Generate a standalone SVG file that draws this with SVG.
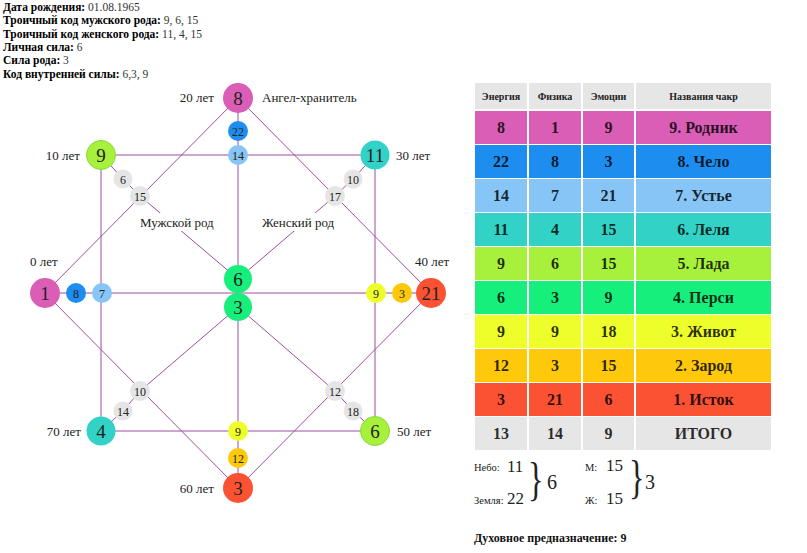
<svg xmlns="http://www.w3.org/2000/svg" width="807" height="553" viewBox="0 0 807 553">
<style>
text{font-family:"Liberation Serif","Times New Roman",serif;}
.hd{font-size:11.5px;fill:#000;}
.hd tspan.b{font-weight:bold;}
.hd tspan.v{fill:#333;}
.lbl{font-size:13px;fill:#222;}
.big{font-size:19px;fill:#222;text-anchor:middle;}
.sm{font-size:12px;fill:#222;text-anchor:middle;}
.ln{stroke:#9c4fa0;stroke-width:1;fill:none;}
.th{font-size:10px;font-weight:bold;fill:#222;text-anchor:middle;}
.td{font-size:16px;font-weight:bold;fill:#000;fill-opacity:0.82;text-anchor:middle;}
.pink{fill:#da5db6;} .blue{fill:#1d8ef0;} .lblue{fill:#86c5f6;} .teal{fill:#32d3c6;}
.lime{fill:#a7f03b;} .green{fill:#16ef7c;} .yel{fill:#eefe2a;} .orng{fill:#fdc90a;}
.red{fill:#fb5234;} .gray{fill:#e5e5e5;} .hgray{fill:#e6e6e6;}
.limec{fill:#a7f03b;stroke:#86da3a;stroke-width:1;}
.small{font-size:10.5px;fill:#222;}
.mid{font-size:17px;fill:#222;}
.res{font-size:20px;fill:#222;}
.brace{font-size:46px;fill:#222;}
</style>

<g id="header">
<text class="hd" x="3" y="11"><tspan class="b">Дата рождения:</tspan><tspan class="v"> 01.08.1965</tspan></text>
<text class="hd" x="3" y="24.3"><tspan class="b">Троичный код мужского рода:</tspan><tspan class="v"> 9, 6, 15</tspan></text>
<text class="hd" x="3" y="37.6"><tspan class="b">Троичный код женского рода:</tspan><tspan class="v"> 11, 4, 15</tspan></text>
<text class="hd" x="3" y="50.9"><tspan class="b">Личная сила:</tspan><tspan class="v"> 6</tspan></text>
<text class="hd" x="3" y="64.2"><tspan class="b">Сила рода:</tspan><tspan class="v"> 3</tspan></text>
<text class="hd" x="3" y="77.5"><tspan class="b">Код внутренней силы:</tspan><tspan class="v"> 6,3, 9</tspan></text>
</g>

<g id="connectors">
<path class="ln" d="M101,155 H375 V431 H101 Z"/>
<path class="ln" d="M238,98 L45,293 L238,488 L431,293 Z"/>
<line class="ln" x1="45" y1="293" x2="431" y2="293"/>
<line class="ln" x1="238" y1="98" x2="238" y2="488"/>
<polyline class="ln" points="101,155 123,179 140,196 238,279"/>
<polyline class="ln" points="375,155 353,179 335,196 238,279"/>
<polyline class="ln" points="101,431 123,411 140,391 238,307"/>
<polyline class="ln" points="375,431 353,411 335,391 238,307"/>
</g>

<g id="line-labels">
<rect x="138" y="213" width="80" height="18" fill="#fff"/>
<text class="lbl" x="140" y="227">Мужской род</text>
<rect x="260" y="213" width="78" height="18" fill="#fff"/>
<text class="lbl" x="262" y="227">Женский род</text>
</g>

<g id="age-labels">
<text class="lbl" x="214" y="102" text-anchor="end">20 лет</text>
<text class="lbl" x="262" y="102">Ангел-хранитель</text>
<text class="lbl" x="80" y="160" text-anchor="end">10 лет</text>
<text class="lbl" x="396" y="160">30 лет</text>
<text class="lbl" x="30" y="266">0 лет</text>
<text class="lbl" x="415" y="266">40 лет</text>
<text class="lbl" x="81" y="436" text-anchor="end">70 лет</text>
<text class="lbl" x="397" y="436">50 лет</text>
<text class="lbl" x="214" y="493" text-anchor="end">60 лет</text>
</g>

<g id="n-top"><circle class="pink" cx="238" cy="98" r="15"/><text class="big" x="238" y="105">8</text></g>
<g id="n-top-22"><circle class="blue" cx="238" cy="131" r="10"/><text class="sm" x="238" y="135.5">22</text></g>
<g id="n-top-14"><circle class="lblue" cx="238" cy="155" r="10"/><text class="sm" x="238" y="159.5">14</text></g>
<g id="n-tl"><circle class="limec" cx="101" cy="155" r="14.5"/><text class="big" x="101" y="162">9</text></g>
<g id="n-tl-6"><circle class="gray" cx="123" cy="179" r="9.5"/><text class="sm" x="123" y="183.5">6</text></g>
<g id="n-tl-15"><circle class="gray" cx="140" cy="196" r="10"/><text class="sm" x="140" y="200.5">15</text></g>
<g id="n-tr"><circle class="teal" cx="375" cy="155" r="14.5"/><text class="big" x="375" y="162">11</text></g>
<g id="n-tr-10"><circle class="gray" cx="353" cy="179" r="9.5"/><text class="sm" x="353" y="183.5">10</text></g>
<g id="n-tr-17"><circle class="gray" cx="335" cy="196" r="10"/><text class="sm" x="335" y="200.5">17</text></g>
<g id="n-left"><circle class="pink" cx="45" cy="293" r="15"/><text class="big" x="45" y="300">1</text></g>
<g id="n-left-8"><circle class="blue" cx="76" cy="293" r="10"/><text class="sm" x="76" y="297.5">8</text></g>
<g id="n-left-7"><circle class="lblue" cx="102" cy="293" r="10"/><text class="sm" x="102" y="297.5">7</text></g>
<g id="n-right"><circle class="red" cx="431" cy="293" r="15"/><text class="big" x="431" y="300">21</text></g>
<g id="n-right-3"><circle class="orng" cx="402" cy="293" r="10"/><text class="sm" x="402" y="297.5">3</text></g>
<g id="n-right-9"><circle class="yel" cx="376" cy="293" r="10"/><text class="sm" x="376" y="297.5">9</text></g>
<g id="n-center-6"><circle class="green" cx="238" cy="279" r="14"/><text class="big" x="238" y="286">6</text></g>
<g id="n-center-3"><circle class="green" cx="238" cy="307" r="14"/><text class="big" x="238" y="314">3</text></g>
<g id="n-bl"><circle class="teal" cx="101" cy="431" r="14.5"/><text class="big" x="101" y="438">4</text></g>
<g id="n-bl-14"><circle class="gray" cx="123" cy="411" r="9.5"/><text class="sm" x="123" y="415.5">14</text></g>
<g id="n-bl-10"><circle class="gray" cx="140" cy="391" r="10"/><text class="sm" x="140" y="395.5">10</text></g>
<g id="n-br"><circle class="limec" cx="375" cy="431" r="14.5"/><text class="big" x="375" y="438">6</text></g>
<g id="n-br-18"><circle class="gray" cx="353" cy="411" r="9.5"/><text class="sm" x="353" y="415.5">18</text></g>
<g id="n-br-12"><circle class="gray" cx="335" cy="391" r="10"/><text class="sm" x="335" y="395.5">12</text></g>
<g id="n-bottom"><circle class="red" cx="238" cy="488" r="15"/><text class="big" x="238" y="495">3</text></g>
<g id="n-bottom-12"><circle class="orng" cx="238" cy="458" r="10"/><text class="sm" x="238" y="462.5">12</text></g>
<g id="n-bottom-9"><circle class="yel" cx="238" cy="431" r="10"/><text class="sm" x="238" y="435.5">9</text></g>

<g id="table">
<g id="thead">
<rect class="hgray" x="475" y="83" width="52" height="26"/>
<rect class="hgray" x="529" y="83" width="52" height="26"/>
<rect class="hgray" x="583" y="83" width="51" height="26"/>
<rect class="hgray" x="636" y="83" width="135" height="26"/>
<text class="th" x="501" y="100">Энергия</text>
<text class="th" x="555" y="100">Физика</text>
<text class="th" x="608.5" y="100">Эмоции</text>
<text class="th" x="703.5" y="100">Названия чакр</text>
</g>
<g id="row9">
<rect class="pink" x="475" y="111" width="52" height="33"/><rect class="pink" x="529" y="111" width="52" height="33"/><rect class="pink" x="583" y="111" width="51" height="33"/><rect class="pink" x="636" y="111" width="135" height="33"/>
<text class="td" x="501" y="133">8</text><text class="td" x="555" y="133">1</text><text class="td" x="608.5" y="133">9</text><text class="td" x="703.5" y="133">9. Родник</text>
</g>
<g id="row8">
<rect class="blue" x="475" y="145" width="52" height="33"/><rect class="blue" x="529" y="145" width="52" height="33"/><rect class="blue" x="583" y="145" width="51" height="33"/><rect class="blue" x="636" y="145" width="135" height="33"/>
<text class="td" x="501" y="167">22</text><text class="td" x="555" y="167">8</text><text class="td" x="608.5" y="167">3</text><text class="td" x="703.5" y="167">8. Чело</text>
</g>
<g id="row7">
<rect class="lblue" x="475" y="179" width="52" height="33"/><rect class="lblue" x="529" y="179" width="52" height="33"/><rect class="lblue" x="583" y="179" width="51" height="33"/><rect class="lblue" x="636" y="179" width="135" height="33"/>
<text class="td" x="501" y="201">14</text><text class="td" x="555" y="201">7</text><text class="td" x="608.5" y="201">21</text><text class="td" x="703.5" y="201">7. Устье</text>
</g>
<g id="row6">
<rect class="teal" x="475" y="213" width="52" height="33"/><rect class="teal" x="529" y="213" width="52" height="33"/><rect class="teal" x="583" y="213" width="51" height="33"/><rect class="teal" x="636" y="213" width="135" height="33"/>
<text class="td" x="501" y="235">11</text><text class="td" x="555" y="235">4</text><text class="td" x="608.5" y="235">15</text><text class="td" x="703.5" y="235">6. Леля</text>
</g>
<g id="row5">
<rect class="lime" x="475" y="247" width="52" height="33"/><rect class="lime" x="529" y="247" width="52" height="33"/><rect class="lime" x="583" y="247" width="51" height="33"/><rect class="lime" x="636" y="247" width="135" height="33"/>
<text class="td" x="501" y="269">9</text><text class="td" x="555" y="269">6</text><text class="td" x="608.5" y="269">15</text><text class="td" x="703.5" y="269">5. Лада</text>
</g>
<g id="row4">
<rect class="green" x="475" y="281" width="52" height="33"/><rect class="green" x="529" y="281" width="52" height="33"/><rect class="green" x="583" y="281" width="51" height="33"/><rect class="green" x="636" y="281" width="135" height="33"/>
<text class="td" x="501" y="303">6</text><text class="td" x="555" y="303">3</text><text class="td" x="608.5" y="303">9</text><text class="td" x="703.5" y="303">4. Перси</text>
</g>
<g id="row3">
<rect class="yel" x="475" y="315" width="52" height="33"/><rect class="yel" x="529" y="315" width="52" height="33"/><rect class="yel" x="583" y="315" width="51" height="33"/><rect class="yel" x="636" y="315" width="135" height="33"/>
<text class="td" x="501" y="337">9</text><text class="td" x="555" y="337">9</text><text class="td" x="608.5" y="337">18</text><text class="td" x="703.5" y="337">3. Живот</text>
</g>
<g id="row2">
<rect class="orng" x="475" y="349" width="52" height="33"/><rect class="orng" x="529" y="349" width="52" height="33"/><rect class="orng" x="583" y="349" width="51" height="33"/><rect class="orng" x="636" y="349" width="135" height="33"/>
<text class="td" x="501" y="371">12</text><text class="td" x="555" y="371">3</text><text class="td" x="608.5" y="371">15</text><text class="td" x="703.5" y="371">2. Зарод</text>
</g>
<g id="row1">
<rect class="red" x="475" y="383" width="52" height="33"/><rect class="red" x="529" y="383" width="52" height="33"/><rect class="red" x="583" y="383" width="51" height="33"/><rect class="red" x="636" y="383" width="135" height="33"/>
<text class="td" x="501" y="405">3</text><text class="td" x="555" y="405">21</text><text class="td" x="608.5" y="405">6</text><text class="td" x="703.5" y="405">1. Исток</text>
</g>
<g id="rowtotal">
<rect class="hgray" x="475" y="417" width="52" height="33"/><rect class="hgray" x="529" y="417" width="52" height="33"/><rect class="hgray" x="583" y="417" width="51" height="33"/><rect class="hgray" x="636" y="417" width="135" height="33"/>
<text class="td" x="501" y="439">13</text><text class="td" x="555" y="439">14</text><text class="td" x="608.5" y="439">9</text><text class="td" x="703.5" y="439">ИТОГО</text>
</g>
</g>

<g id="summary">
<text class="small" x="474" y="471">Небо:</text>
<text class="mid" x="507" y="472">11</text>
<text class="small" x="474" y="504">Земля:</text>
<text class="mid" x="507" y="504">22</text>
<text class="brace" transform="translate(528,495) scale(0.7,1)">}</text>
<text class="res" x="547" y="489">6</text>
<text class="small" x="585" y="471">М:</text>
<text class="mid" x="606" y="471">15</text>
<text class="small" x="585" y="504">Ж:</text>
<text class="mid" x="606" y="504">15</text>
<text class="brace" transform="translate(629,493) scale(0.7,1)">}</text>
<text class="res" x="645" y="489">3</text>
<text x="474" y="542" style="font-size:12px;font-weight:bold;fill:#111">Духовное предназначение: 9</text>
</g>
</svg>
